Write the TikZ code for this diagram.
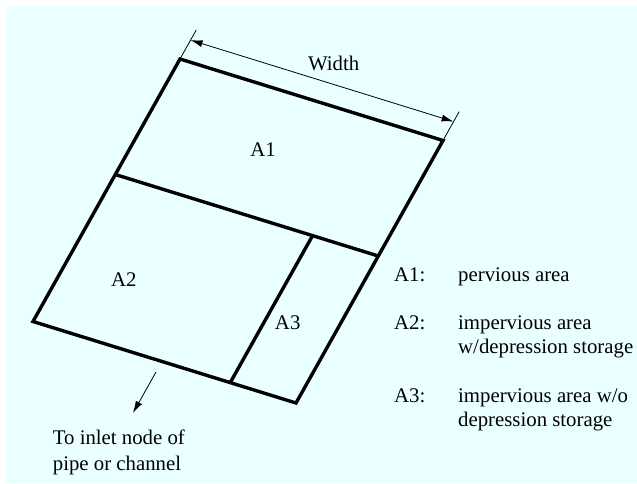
\documentclass[tikz,border=0pt]{standalone}
\usepackage{fontspec}
\setmainfont{Liberation Serif}
\usetikzlibrary{arrows.meta,calc,positioning}
\tikzset{
  bord/.style={line width=3.4pt},
  dimline/.style={line width=0.8pt},
  lbl/.style={inner sep=0pt,font=\fontsize{20.8}{24}\selectfont},
}
\begin{document}
\begin{tikzpicture}[x=1pt,y=-1pt,>={Latex[length=12pt,width=7pt]}]
\definecolor{bgcyan}{RGB}{234,255,255}
\useasboundingbox (0,0) rectangle (637,483);
\fill[bgcyan] (6,6) rectangle (637,483);
% subcatchment outline
\coordinate (tl) at (180,59);
\coordinate (tr) at (443,140.5);
\coordinate (br) at (296,403);
\coordinate (bl) at (33,321.5);
\draw[bord,line join=miter] (tl) -- (tr) -- (br) -- (bl) -- cycle;
\coordinate (ml) at ($(tl)!0.44!(bl)$);
\coordinate (mr) at ($(tr)!0.44!(br)$);
\draw[bord] (ml) -- (mr);
\coordinate (dt) at ($(ml)!0.75!(mr)$);
\coordinate (db) at ($(bl)!0.75!(br)$);
\draw[bord] (dt) -- (db);
% width dimension
\coordinate (tlx) at ($(tl)!-0.11!(bl)$);
\coordinate (trx) at ($(tr)!-0.11!(br)$);
\draw[dimline] (tl) -- (tlx);
\draw[dimline] (tr) -- (trx);
\coordinate (wa) at ($(tl)!-0.072!(bl)$);
\coordinate (wb) at ($(tr)!-0.072!(br)$);
\draw[dimline,<->] (wa) -- (wb);
\node[lbl,anchor=base] (wlab) at (333.7,70.7) {Width};
% area labels
\node[lbl,anchor=base] (a1) at (263,156.7) {A1};
\node[lbl,anchor=base] (a2) at (123.8,286.7) {A2};
\node[lbl,anchor=base] (a3) at (287.7,329.3) {A3};
% outlet
\coordinate (oa) at (156,372);
\coordinate (ob) at (133,413);
\draw[dimline,->] (oa) -- (ob);
\node[lbl,font=\fontsize{20.8}{26.5}\selectfont,anchor=base west,align=left] (outlet) at (52.7,470.5) {To inlet node of\\pipe or channel};
% legend
\node[lbl,anchor=base west] (k1) at (394,281) {A1:};
\node[lbl,anchor=base west] (k2) at (394,329.3) {A2:};
\node[lbl,anchor=base west] (k3) at (394,402.7) {A3:};
\node[lbl,anchor=base west,align=left] (d1) at (458,281) {pervious area};
\node[lbl,anchor=base west,align=left] (d2) at (458,353.3) {impervious area\\w/depression storage};
\node[lbl,anchor=base west,align=left] (d3) at (458,426.7) {impervious area w/o\\depression storage};
\end{tikzpicture}
\end{document}
